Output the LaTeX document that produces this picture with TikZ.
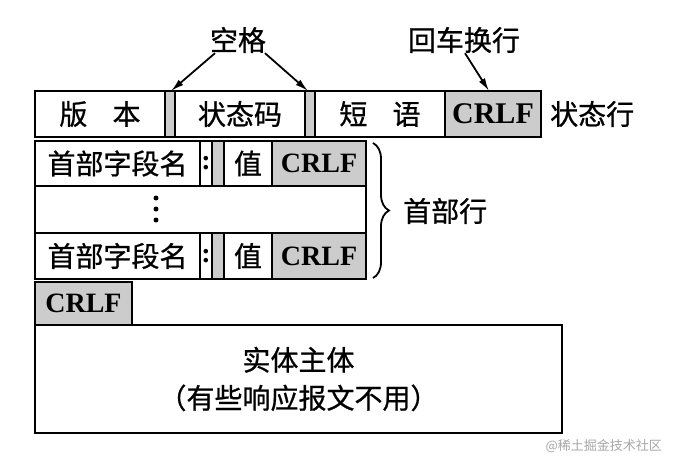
\documentclass[tikz,border=0pt]{standalone}
\usepackage{fontspec}
\setmainfont{Liberation Serif}
\newfontfamily\cjk{Noto Sans CJK SC}[FakeBold=0.8]
\newfontfamily\cjkthin{Noto Sans CJK SC}
\usetikzlibrary{arrows.meta,decorations.pathreplacing}
\definecolor{shade}{gray}{0.80}
\begin{document}
\begin{tikzpicture}[x=1pt,y=-1pt,
  box/.style={draw,line width=1.8pt,anchor=north west,inner sep=0pt,outer sep=0pt,
    font=\cjk\fontsize{28}{30}\selectfont},
  gbox/.style={box,fill=shade},
  crlfbox/.style={gbox,font=\bfseries\fontsize{28}{28}\selectfont},
  lbl/.style={font=\cjk\fontsize{28}{30}\selectfont,inner sep=0pt},
  arr/.style={line width=1.8pt,-{Latex[length=13pt,width=7pt]}},
  dot/.style={circle,fill=black,inner sep=0pt,minimum size=5pt},
]
\useasboundingbox (0,0) rectangle (675,467);
% status line
\node[box,minimum width=130pt,minimum height=46pt] (ver) at (35,91) {版\hspace{0.9em}本};
\node[gbox,minimum width=10pt,minimum height=46pt] (g1) at (165,91) {};
\node[box,minimum width=130pt,minimum height=46pt] (code) at (175,91) {状态码};
\node[gbox,minimum width=10pt,minimum height=46pt] (g2) at (305,91) {};
\node[box,minimum width=130pt,minimum height=46pt] (phrase) at (315,91) {短\hspace{0.9em}语};
\node[crlfbox,minimum width=96pt,minimum height=46pt,font=\bfseries\fontsize{30}{30}\selectfont] (c0) at (445,91) {CRLF};
\node[lbl,anchor=west] (statl) at (550,114) {状态行};
% labels above
\node[lbl] (sp) at (238,40) {空格};
\node[lbl] (cr) at (464,40) {回车换行};
\draw[arr] ([xshift=-23pt]sp.south) -- ([xshift=1pt]g1.north);
\draw[arr] ([xshift=27pt]sp.south) -- ([xshift=-2pt]g2.north);
\draw[arr] ([xshift=1pt]cr.south) -- ([xshift=44pt]c0.north west);
% header line 1
\node[box,minimum width=165pt,minimum height=45pt] (name1) at (35,141) {首部字段名};
\node[box,minimum width=12pt,minimum height=45pt,font=\bfseries\fontsize{28}{28}\selectfont] (col1) at (200,141) {:};
\node[gbox,minimum width=12pt,minimum height=45pt] (hg1) at (212,141) {};
\node[box,minimum width=48pt,minimum height=45pt] (val1) at (224,141) {值};
\node[crlfbox,minimum width=94pt,minimum height=45pt] (crlf1) at (272,141) {CRLF};
% dots line
\node[box,minimum width=331pt,minimum height=47pt] (dotrow) at (35,186) {};
\node[dot] (d1) at (156,198) {};
\node[dot] (d2) at (156,209) {};
\node[dot] (d3) at (156,220) {};
% header line 2
\node[box,minimum width=165pt,minimum height=46pt] (name2) at (35,233) {首部字段名};
\node[box,minimum width=12pt,minimum height=46pt,font=\bfseries\fontsize{28}{28}\selectfont] (col2) at (200,233) {:};
\node[gbox,minimum width=12pt,minimum height=46pt] (hg2) at (212,233) {};
\node[box,minimum width=48pt,minimum height=46pt] (val2) at (224,233) {值};
\node[crlfbox,minimum width=94pt,minimum height=46pt] (crlf2) at (272,233) {CRLF};
% brace
\coordinate (bt) at ([xshift=7pt,yshift=-2pt]crlf1.north east);
\coordinate (bb) at ([xshift=7pt,yshift=1pt]crlf2.south east);
\draw[line width=1.8pt,decorate,decoration={brace,amplitude=16pt}] (bt) -- (bb);
\node[lbl,anchor=west] (hl) at (403,211) {首部行};
% empty line
\node[crlfbox,minimum width=97pt,minimum height=43pt] (crlf3) at (35,282) {CRLF};
% body
\node[box,minimum width=527pt,minimum height=108pt,align=center,font=\cjk\fontsize{28}{38}\selectfont] (body) at (35,325) {实体主体\\（有些响应报文不用）};
% watermark
\node[inner sep=0pt,anchor=east,text=gray!70,font=\cjkthin\fontsize{13}{13}\selectfont] (wm) at (662,446) {@稀土掘金技术社区};
\end{tikzpicture}
\end{document}
